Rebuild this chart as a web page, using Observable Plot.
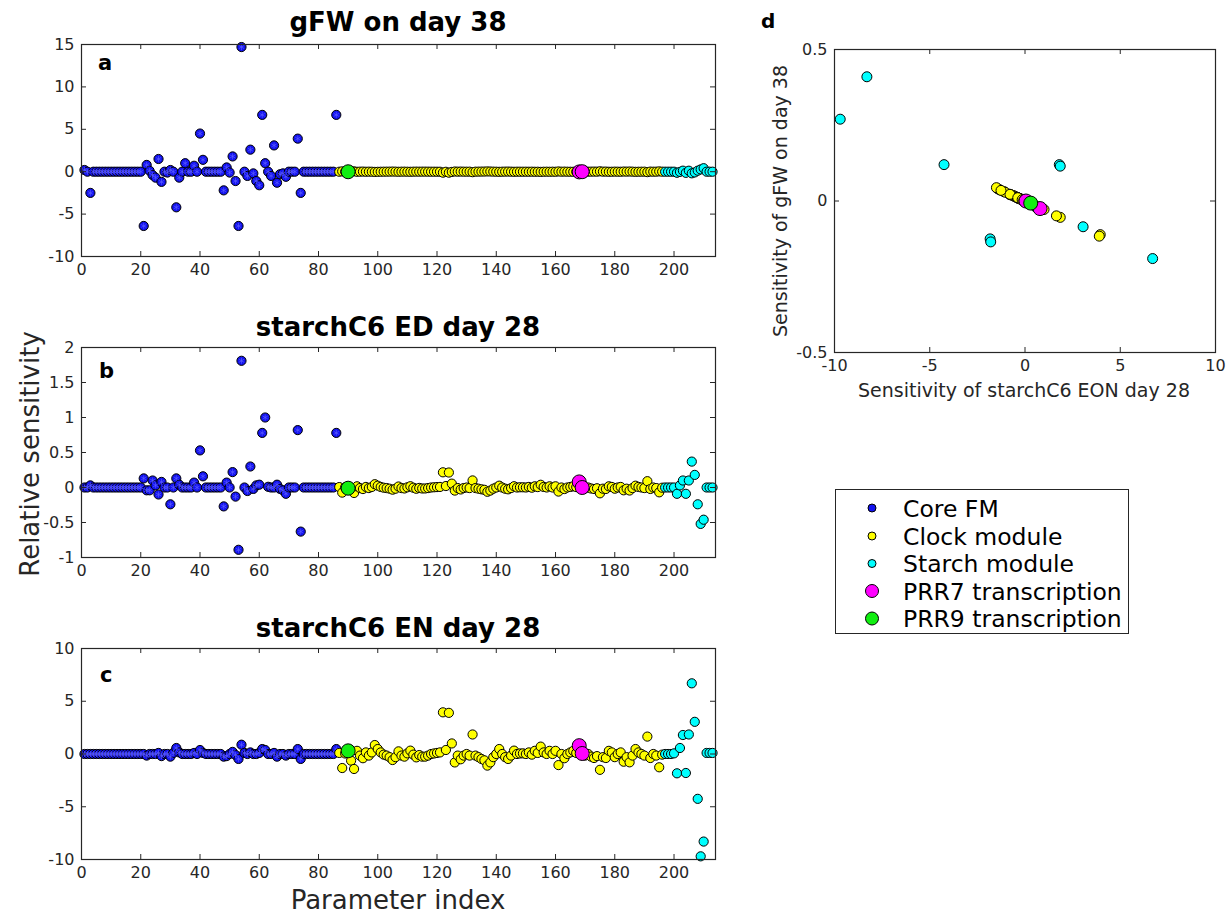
<!DOCTYPE html>
<html>
<head>
<meta charset="utf-8">
<script src="https://cdn.jsdelivr.net/npm/d3@7"></script>
<script src="https://cdn.jsdelivr.net/npm/@observablehq/plot@0.6"></script>
<style>
  html, body { margin: 0; padding: 0; background: #ffffff; }
  #fig { position: relative; width: 1230px; height: 915px; overflow: hidden; background: #fff; font-family: "DejaVu Sans", sans-serif; }
  .panel { position: absolute; }
  .panel svg { overflow: visible; max-width: none; }
  #overlay { position: absolute; left: 0; top: 0; pointer-events: none; }
</style>
</head>
<body>
<div id="fig"></div>
<script>
// ---------------- data ----------------
// parameter indices 1..213
const paramCount = 213;
const clockFirst = 87;   // first Clock-module parameter
const starchFirst = 197; // first Starch-module parameter
const prr7Params = [168, 169];
const prr9Params = [90];

const moduleNames = ["Core FM", "Clock module", "Starch module", "PRR7 transcription", "PRR9 transcription"];
const moduleColors = ["#1212f0", "#ffff00", "#00ffff", "#ff00ff", "#11ee11"];

// panel a: relative sensitivity of gFW on day 38
const gfwDay38 = [
  0.2, 0, -2.5, 0, 0, 0, 0, 0, 0, 0,
  0, 0, 0, 0, 0, 0, 0, 0, 0, 0,
  -6.4, 0.8, 0.1, -0.4, -0.7, 1.5, -1.2, 0, -0.1, 0.2,
  0, -4.2, -0.7, 0, 1.0, 0, 0, 0.7, 0, 4.5,
  1.4, 0, 0, 0, 0, 0, 0, -2.2, 0.5, -0.1,
  1.8, -1.1, -6.4, 14.7, 0, -0.5, 2.6, -0.2, -1.1, -1.6,
  6.7, 1.0, 0, -0.5, 3.1, -1.3, -0.3, -0.2, -0.6, 0,
  0, 0, 3.9, -2.5, 0, 0, 0, 0, 0, 0,
  0, 0, 0, 0, 0, 6.7,
  -0.003, 0.037, -0.001, -0.007, 0.018, 0.040, -0.008, 0.004, 0.011, -0.004,
  0.004, -0.004, -0.024, -0.013, -0.004, 0.002, 0.004, 0.008, 0.016, 0.008,
  -0.007, 0.004, 0.007, -0.002, -0.009, 0.002, 0.009, 0.003, 0.007, 0.007,
  0.004, 0, -0.001, -0.003, -0.004, -0.111, -0.011, -0.116, -0.028, 0.022,
  0.004, 0.014, 0.004, 0, 0.004, -0.054, 0.004, 0.008, 0.013, 0.017,
  0.031, 0.022, 0.008, 0, -0.013, 0, 0.008, 0.013, 0.004, -0.009,
  0, -0.001, -0.002, 0, -0.004, 0.002, -0.008, -0.003, -0.020, -0.004,
  0, -0.008, 0, -0.008, 0.029, 0, 0.011, 0, -0.004, -0.008,
  -0.003, -0.025, 0, 0.004, 0, 0.007, 0.011, 0.006, 0.044, 0.008,
  0.011, -0.008, -0.004, 0.008, 0, -0.004, 0.020, 0.008, 0.022, 0.004,
  -0.013, -0.004, 0, 0.004, -0.049, 0.011, 0, 0.004, 0.035, 0.002,
  0, 0, 0, 0, -0.125, -0.02, 0.12, -0.135, 0.115, -0.19,
  -0.085, 0.12, 0.27, 0.41, 0, 0, 0
];

// panel b: starchC6 ED day 28
const starchED28 = [
  0, 0, 0.03, 0, 0, 0, 0, 0, 0, 0,
  0, 0, 0, 0, 0, 0, 0, 0, 0, 0,
  0.13, -0.04, -0.04, 0.1, 0.03, -0.1, 0.08, 0, 0, -0.24,
  0, 0.13, 0.04, 0, 0, 0, 0, 0.07, 0, 0.53,
  0.16, 0, 0, 0, 0, 0, 0, -0.27, 0.07, 0,
  0.22, -0.13, -0.89, 1.81, 0, -0.05, 0.3, -0.02, 0.03, 0.04,
  0.78, 1.0, 0.01, 0, 0, 0.04, -0.02, -0.04, -0.09, 0,
  0, 0, 0.82, -0.63, 0, 0, 0, 0, 0, 0,
  0, 0, 0, 0, 0, 0.78,
  0.006, -0.073, 0.003, -0.01, -0.035, -0.078, 0.017, -0.008, -0.022, 0.008,
  -0.008, 0.008, 0.047, 0.026, 0.008, -0.003, -0.008, -0.017, -0.031, -0.017,
  0.014, -0.008, -0.014, 0.003, 0.018, -0.003, -0.018, -0.006, -0.014, -0.014,
  -0.008, 0, 0.003, 0.006, 0.008, 0.217, 0.021, 0.214, 0.055, -0.044,
  -0.008, -0.028, -0.008, 0, -0.008, 0.101, -0.008, -0.017, -0.026, -0.033,
  -0.061, -0.044, -0.017, 0, 0.026, 0, -0.017, -0.026, -0.008, 0.018,
  0, 0.003, 0.003, 0, 0.008, -0.003, 0.017, 0.006, 0.039, 0.008,
  0, 0.017, 0, 0.017, -0.058, 0, -0.022, 0, 0.008, 0.017,
  0.006, 0.08, 0.0, -0.008, 0, -0.014, -0.021, -0.011, -0.083, -0.017,
  -0.021, 0.017, 0.008, -0.017, 0, 0.008, -0.040, -0.017, -0.043, -0.008,
  0.026, 0.008, 0, -0.008, 0.09, -0.021, 0, -0.008, -0.069, -0.003,
  0, 0, 0, 0, -0.09, 0.03, 0.1, -0.09, 0.1, 0.37,
  0.18, -0.24, -0.52, -0.46, 0, 0, 0
];

// panel c: starchC6 EN day 28
const starchEN28 = [
  0, 0, 0, 0, 0, 0, 0, 0, 0, 0,
  0, 0, 0, 0, 0, 0, 0, 0, 0, 0,
  0, -0.15, 0, 0, 0, 0.1, -0.2, 0, 0, -0.25,
  0.1, 0.57, 0.15, 0, 0, 0, 0, 0.1, 0, 0.38,
  0.1, 0, 0, 0, 0, 0, 0, -0.25, -0.2, 0,
  0.2, -0.1, -0.47, 0.88, 0.1, 0, 0.15, 0, 0, 0.1,
  0.47, 0.38, 0, 0, 0.1, -0.25, 0, 0, -0.15, 0,
  0, 0, 0.47, -0.47, 0, 0, 0, 0, 0, 0,
  0, 0, 0, 0, 0, 0.47,
  0.1, -1.33, 0.05, 0.3, -0.63, -1.42, 0.3, -0.15, -0.4, 0.15,
  -0.15, 0.15, 0.85, 0.47, 0.15, -0.06, -0.15, -0.3, -0.57, -0.3,
  0.25, -0.15, -0.25, 0.06, 0.32, -0.06, -0.32, -0.1, -0.25, -0.25,
  -0.15, 0, 0.05, 0.1, 0.15, 3.95, 0.38, 3.9, 1.0, -0.8,
  -0.15, -0.5, -0.15, 0, -0.15, 1.85, -0.15, -0.3, -0.47, -0.6,
  -1.1, -0.8, -0.3, 0, 0.47, 0, -0.3, -0.47, -0.15, 0.32,
  0, 0.05, 0.06, 0, 0.15, -0.06, 0.3, 0.1, 0.7, 0.15,
  0, 0.3, 0, 0.3, -1.05, 0, -0.4, 0, 0.15, 0.3,
  0.1, 0.79, 0.05, -0.15, 0, -0.25, -0.38, -0.2, -1.5, -0.3,
  -0.38, 0.3, 0.15, -0.3, 0, 0.15, -0.73, -0.3, -0.79, -0.15,
  0.47, 0.15, 0, -0.15, 1.65, -0.38, 0, -0.15, -1.26, -0.06,
  0, 0, 0, 0.06, -1.83, 0.57, 1.8, -1.8, 1.85, 6.7,
  3.05, -4.25, -9.7, -8.3, 0.1, 0.1, 0.1
];

// axis ticks
const indexTicks = [0, 20, 40, 60, 80, 100, 120, 140, 160, 180, 200];
const ticksA = [-10, -5, 0, 5, 10, 15];
const ticksB = [-1, -0.5, 0, 0.5, 1, 1.5, 2];
const ticksC = [-10, -5, 0, 5, 10];
const ticksDx = [-10, -5, 0, 5, 10];
const ticksDy = [-0.5, 0, 0.5];

const panelTitles = ["gFW on day 38", "starchC6 ED day 28", "starchC6 EN day 28"];
const panelLetters = ["a", "b", "c", "d"];
const yLabelLeft = "Relative sensitivity";
const xLabelLeft = "Parameter index";
const xLabelD = "Sensitivity of starchC6 EON day 28";
const yLabelD = "Sensitivity of gFW on day 38";

// ---------------- table ----------------
const rows = d3.range(1, paramCount + 1).map((p, k) => ({
  p,
  gfw: gfwDay38[k],
  ed: starchED28[k],
  en: starchEN28[k],
  mod: p < clockFirst ? 0 : p < starchFirst ? 1 : 2
}));
const prr7Rows = rows.filter(d => prr7Params.includes(d.p));
const prr9Rows = rows.filter(d => prr9Params.includes(d.p));

const AXIS = "#262626";
const fig = document.getElementById("fig");

function dotLayers(x, y, rSmall, rBig, withCore) {
  const L = [];
  if (withCore) {
    const core = rows.filter(d => d.mod === 0);
    L.push(Plot.dot(core, {x, y, r: rSmall, fill: moduleColors[0], stroke: "#000", strokeWidth: 1}));
    L.push(Plot.dot(core, {x, y, r: rSmall * 0.6, symbol: "asterisk", stroke: "#5c5cff", strokeWidth: 0.7}));
  }
  L.push(Plot.dot(rows.filter(d => d.mod === 1), {x, y, r: rSmall, fill: moduleColors[1], stroke: "#000", strokeWidth: 1}));
  L.push(Plot.dot(rows.filter(d => d.mod === 2), {x, y, r: rSmall, fill: moduleColors[2], stroke: "#000", strokeWidth: 1}));
  L.push(Plot.dot(prr7Rows, {x, y, r: rBig, fill: moduleColors[3], stroke: "#000", strokeWidth: 1}));
  L.push(Plot.dot(prr9Rows, {x, y, r: rBig, fill: moduleColors[4], stroke: "#000", strokeWidth: 1}));
  return L;
}

function panel(opt) {
  const {left, top, width, height, frame, xDomain, yDomain, xTicks, yTicks, layers} = opt;
  const mL = frame.l - left, mT = frame.t - top, mR = left + width - frame.r, mB = top + height - frame.b;
  const iw = frame.r - frame.l, ih = frame.b - frame.t;
  const tl = 5;
  const chart = Plot.plot({
    width, height,
    marginLeft: mL, marginTop: mT, marginRight: mR, marginBottom: mB,
    x: {domain: xDomain},
    y: {domain: yDomain},
    style: {fontFamily: "DejaVu Sans", fontSize: "16px", color: AXIS, background: "transparent", overflow: "visible"},
    marks: [
      Plot.axisX(xTicks, {anchor: "bottom", tickSize: 0, tickPadding: 7, tickFormat: d => String(d), label: null, fontSize: 16, fill: AXIS}),
      Plot.axisY(yTicks, {anchor: "left", tickSize: 0, tickPadding: 7, tickFormat: d => String(d), label: null, fontSize: 16, fill: AXIS}),
      ...layers,
      Plot.tickX(xTicks, {x: d => d, insetTop: ih - tl, stroke: AXIS}),
      Plot.tickX(xTicks, {x: d => d, insetBottom: ih - tl, stroke: AXIS}),
      Plot.tickY(yTicks, {y: d => d, insetRight: iw - tl, stroke: AXIS}),
      Plot.tickY(yTicks, {y: d => d, insetLeft: iw - tl, stroke: AXIS}),
      Plot.frame({stroke: AXIS, strokeWidth: 1.2})
    ]
  });
  const div = document.createElement("div");
  div.className = "panel";
  div.style.left = left + "px";
  div.style.top = top + "px";
  div.appendChild(chart);
  fig.appendChild(div);
}

// panel a
panel({left: 0, top: 0, width: 740, height: 290, frame: {l: 81, t: 44, r: 715, b: 256},
  xDomain: [0, 214], yDomain: [-10, 15], xTicks: indexTicks, yTicks: ticksA,
  layers: dotLayers("p", "gfw", 4.6, 7, true)});
// panel b
panel({left: 0, top: 303, width: 740, height: 290, frame: {l: 81, t: 347, r: 715, b: 557},
  xDomain: [0, 214], yDomain: [-1, 2], xTicks: indexTicks, yTicks: ticksB,
  layers: dotLayers("p", "ed", 4.6, 7, true)});
// panel c
panel({left: 0, top: 604, width: 740, height: 290, frame: {l: 81, t: 648, r: 715, b: 859},
  xDomain: [0, 214], yDomain: [-10, 10], xTicks: indexTicks, yTicks: ticksC,
  layers: dotLayers("p", "en", 4.6, 7, true)});
// panel d
panel({left: 760, top: 5, width: 470, height: 380, frame: {l: 834, t: 49, r: 1215, b: 352},
  xDomain: [-10, 10], yDomain: [-0.5, 0.5], xTicks: ticksDx, yTicks: ticksDy,
  layers: dotLayers("en", "gfw", 5, 7, false)});

// ---------------- text overlay & legend ----------------
const NS = "http://www.w3.org/2000/svg";
const ov = document.createElementNS(NS, "svg");
ov.setAttribute("id", "overlay");
ov.setAttribute("width", 1230);
ov.setAttribute("height", 915);
fig.appendChild(ov);
function txt(s, x, y, o = {}) {
  const t = document.createElementNS(NS, "text");
  t.textContent = s;
  t.setAttribute("x", x);
  t.setAttribute("y", y);
  t.setAttribute("font-family", "DejaVu Sans");
  t.setAttribute("font-size", o.size || 16);
  t.setAttribute("fill", o.fill || "#000");
  if (o.bold) t.setAttribute("font-weight", "bold");
  t.setAttribute("text-anchor", o.anchor || "start");
  if (o.rotate) t.setAttribute("transform", `rotate(-90 ${x} ${y})`);
  ov.appendChild(t);
  return t;
}
txt(panelTitles[0], 398, 31, {size: 26, bold: true, anchor: "middle"});
txt(panelTitles[1], 398, 336, {size: 26, bold: true, anchor: "middle"});
txt(panelTitles[2], 398, 637, {size: 26, bold: true, anchor: "middle"});
txt(panelLetters[0], 98, 70, {size: 21, bold: true});
txt(panelLetters[1], 99, 378, {size: 21, bold: true});
txt(panelLetters[2], 100, 682, {size: 21, bold: true});
txt(panelLetters[3], 761, 28, {size: 20, bold: true});
txt(yLabelLeft, 39, 454, {size: 26, anchor: "middle", rotate: true, fill: AXIS});
txt(xLabelLeft, 398, 909, {size: 26, anchor: "middle", fill: AXIS});
txt(xLabelD, 1024, 397, {size: 19, anchor: "middle", fill: AXIS});
txt(yLabelD, 787, 201, {size: 19, anchor: "middle", rotate: true, fill: AXIS});

// legend
const box = document.createElementNS(NS, "rect");
box.setAttribute("x", 835.5); box.setAttribute("y", 489.5);
box.setAttribute("width", 293); box.setAttribute("height", 144);
box.setAttribute("fill", "#fff"); box.setAttribute("stroke", AXIS); box.setAttribute("stroke-width", 1);
ov.appendChild(box);
const legendY = [508, 536, 563.5, 591, 618.5];
const legendR = [4, 4, 4, 6.5, 6.5];
moduleNames.forEach((name, i) => {
  const c = document.createElementNS(NS, "circle");
  c.setAttribute("cx", 872); c.setAttribute("cy", legendY[i]); c.setAttribute("r", legendR[i]);
  c.setAttribute("fill", moduleColors[i]); c.setAttribute("stroke", "#000"); c.setAttribute("stroke-width", 1);
  ov.appendChild(c);
  txt(name, 903, legendY[i] + 8.5, {size: 23.5});
});
</script>
</body>
</html>
